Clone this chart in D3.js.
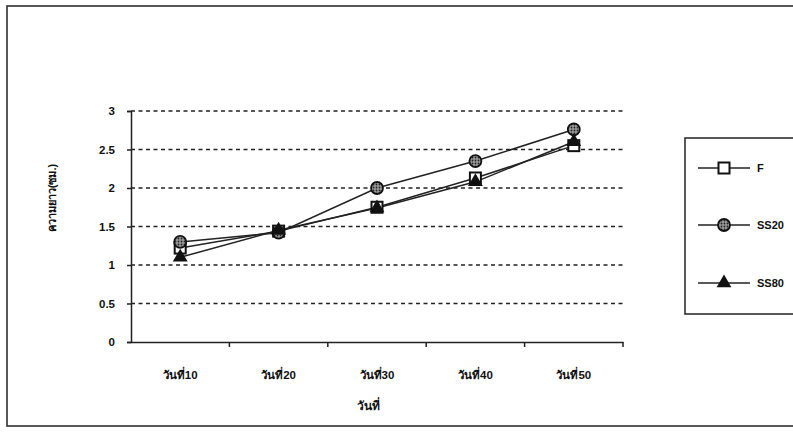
<!DOCTYPE html>
<html lang="th">
<head>
<meta charset="UTF-8">
<title>ความยาว</title>
<script src="https://cdn.jsdelivr.net/npm/d3@7/dist/d3.min.js"></script>
<style>
body { margin: 0; background: #fff; }
text { font-family: Arial, "Liberation Sans", sans-serif; fill: #111; }
.tick text { font-size: 11.5px; font-weight: bold; }
</style>
</head>
<body>
<svg width="793" height="439"></svg>
<script>
var days = ["วันที่10", "วันที่20", "วันที่30", "วันที่40", "วันที่50"];
var seriesF = [1.22, 1.44, 1.75, 2.13, 2.55];
var seriesSS20 = [1.30, 1.42, 2.00, 2.35, 2.76];
var seriesSS80 = [1.10, 1.45, 1.74, 2.08, 2.60];
var yTicks = [0, 0.5, 1, 1.5, 2, 2.5, 3];
var seriesNames = ["F", "SS20", "SS80"];

var svg = d3.select("svg");
var m = { left: 131, right: 623, top: 111, bottom: 342 };

// outer frame (right edge runs off the page)
svg.append("rect").attr("x", 7).attr("y", 6).attr("width", 800).attr("height", 420)
    .attr("fill", "none").attr("stroke", "#222").attr("stroke-width", 1.5);

var x = d3.scaleBand().domain(days).range([m.left, m.right]);
var y = d3.scaleLinear().domain([0, 3]).range([m.bottom, m.top]);

// dashed grid lines
svg.append("g").selectAll("line").data(yTicks.filter(function(d) { return d > 0; }))
    .enter().append("line")
    .attr("x1", m.left).attr("x2", m.right)
    .attr("y1", function(d) { return y(d); }).attr("y2", function(d) { return y(d); })
    .attr("stroke", "#222").attr("stroke-width", 1.7).attr("stroke-dasharray", "4,3.5");

var yAxis = svg.append("g").attr("transform", "translate(" + m.left + ",0)")
    .call(d3.axisLeft(y).tickValues(yTicks).tickFormat(d3.format("")).tickSize(4).tickPadding(12));
yAxis.selectAll("path, line").attr("stroke", "#222").attr("stroke-width", 1.5);

var xAxis = svg.append("g").attr("transform", "translate(0," + m.bottom + ")")
    .call(d3.axisBottom(x).tickSize(0).tickPadding(29));
xAxis.select(".domain").attr("stroke", "#222").attr("stroke-width", 1.5);
// tick marks between categories
svg.append("g").selectAll("line").data(days).enter().append("line")
    .attr("x1", function(d) { return x(d) + x.bandwidth(); })
    .attr("x2", function(d) { return x(d) + x.bandwidth(); })
    .attr("y1", m.bottom).attr("y2", m.bottom + 5)
    .attr("stroke", "#222").attr("stroke-width", 1.5);

svg.append("text").attr("x", 368).attr("y", 410).attr("text-anchor", "middle")
    .style("font-size", "12px").style("font-weight", "bold").text("วันที่");
svg.append("text").attr("transform", "translate(56,198) rotate(-90)").attr("text-anchor", "middle")
    .style("font-size", "11px").style("font-weight", "bold").text("ความยาว(ซม.)");

// marker pattern for the circle symbol
var defs = svg.append("defs");
var pat = defs.append("pattern").attr("id", "dots").attr("width", 3).attr("height", 3)
    .attr("patternUnits", "userSpaceOnUse");
pat.append("rect").attr("width", 3).attr("height", 3).attr("fill", "#999");
pat.append("circle").attr("cx", 1.5).attr("cy", 1.5).attr("r", 0.9).attr("fill", "#222");

var allSeries = [seriesF, seriesSS20, seriesSS80];
var line = d3.line()
    .x(function(d, i) { return x(days[i]) + x.bandwidth() / 2; })
    .y(function(d) { return y(d); });

allSeries.forEach(function(s) {
    svg.append("path").datum(s).attr("d", line)
        .attr("fill", "none").attr("stroke", "#222").attr("stroke-width", 1.5);
});

function marker(g, k, cx, cy) {
    if (k === 0) {
        g.append("rect").attr("x", cx - 5.5).attr("y", cy - 5.5).attr("width", 11).attr("height", 11)
            .attr("fill", "#fff").attr("stroke", "#111").attr("stroke-width", 2);
    } else if (k === 1) {
        g.append("circle").attr("cx", cx).attr("cy", cy).attr("r", 6)
            .attr("fill", "url(#dots)").attr("stroke", "#111").attr("stroke-width", 1.8);
    } else {
        g.append("path").attr("transform", "translate(" + cx + "," + cy + ")")
            .attr("d", d3.symbol().type(d3.symbolTriangle).size(95)())
            .attr("fill", "#111");
    }
}

var markG = svg.append("g");
allSeries.forEach(function(s, k) {
    s.forEach(function(v, i) {
        marker(markG, k, x(days[i]) + x.bandwidth() / 2, y(v));
    });
});

// legend
svg.append("rect").attr("x", 685).attr("y", 138).attr("width", 120).attr("height", 176)
    .attr("fill", "#fff").attr("stroke", "#222").attr("stroke-width", 1.5);
var legY = [168, 225, 283];
seriesNames.forEach(function(name, k) {
    var g = svg.append("g");
    g.append("line").attr("x1", 698).attr("x2", 750).attr("y1", legY[k]).attr("y2", legY[k])
        .attr("stroke", "#222").attr("stroke-width", 1.5);
    marker(g, k, 724, legY[k]);
    g.append("text").attr("x", 757).attr("y", legY[k] + 4)
        .style("font-size", "11px").style("font-weight", "bold").text(name);
});
</script>
</body>
</html>
